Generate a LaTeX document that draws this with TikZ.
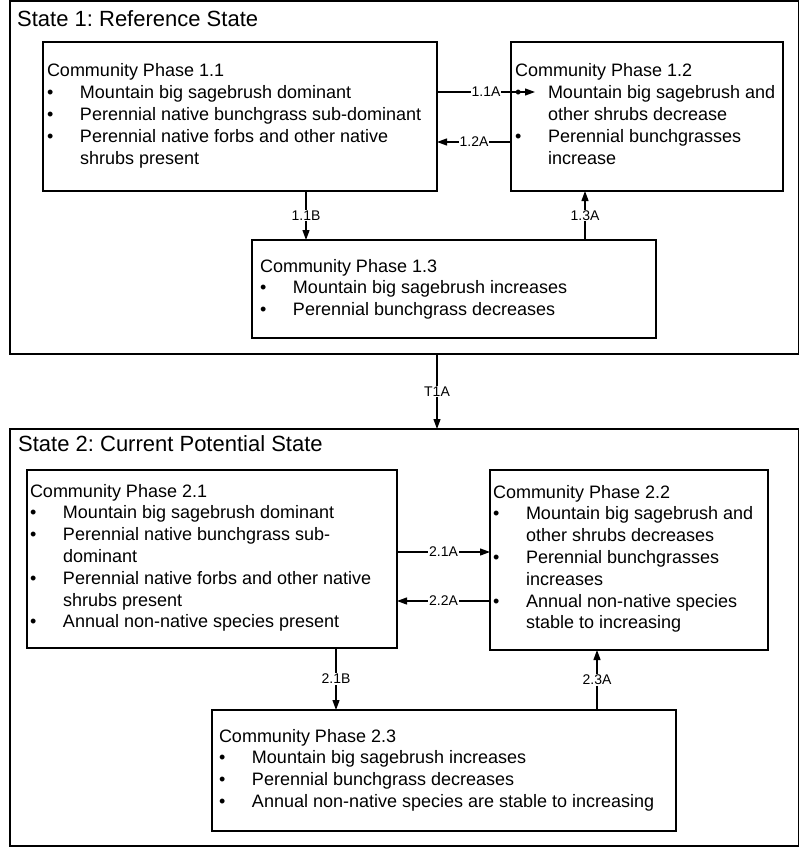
\documentclass[tikz,border=0pt]{standalone}
\usepackage{fontspec}
\setmainfont{Liberation Sans}
\usetikzlibrary{arrows.meta,calc}
\frenchspacing
\tikzset{
  boxstyle/.style={draw, line width=1.2pt, inner sep=0pt, outer sep=0pt, anchor=north west},
  body/.style={inner sep=0pt, outer sep=0pt, anchor=base west, font=\fontsize{18}{21.8}\selectfont},
  ttl/.style={inner sep=0pt, anchor=base west, font=\fontsize{22}{26}\selectfont},
  lbl/.style={fill=white, inner sep=1pt, font=\fontsize{14}{16}\selectfont},
  conn/.style={line width=1.2pt, -{Triangle[length=10pt,width=7pt]}},
}
\newcommand{\bul}{\textbullet}
\newenvironment{phaselist}{\begin{tabular}[t]{@{}p{33pt}@{}l@{}}}{\end{tabular}}
\begin{document}
\frenchspacing
\begin{tikzpicture}[x=1pt,y=-1pt]
\useasboundingbox (0,0) rectangle (800,848);
% state boxes
\node[boxstyle, minimum width=788.5pt, minimum height=353pt] (s1) at (10,1) {};
\node[boxstyle, minimum width=788.5pt, minimum height=417pt] (s2) at (10,429) {};
\node[ttl] (s1t) at (17,27) {State 1: Reference State};
\node[ttl] (s2t) at (18,451) {State 2: Current Potential State};
% phase boxes
\node[boxstyle, minimum width=394pt, minimum height=149pt] (p11) at (43,42) {};
\node[boxstyle, minimum width=272pt, minimum height=149pt] (p12) at (511,42) {};
\node[boxstyle, minimum width=404pt, minimum height=98pt] (p13) at (252,240) {};
\node[boxstyle, minimum width=370pt, minimum height=178pt] (p21) at (27,470) {};
\node[boxstyle, minimum width=278pt, minimum height=180pt] (p22) at (490,470) {};
\node[boxstyle, minimum width=464pt, minimum height=121pt] (p23) at (212,710) {};
% phase texts
\node[body] (t11) at (47,77) {\begin{phaselist}
\multicolumn{2}{@{}l@{}}{Community Phase 1.1}\\
\bul & Mountain big sagebrush dominant\\
\bul & Perennial native bunchgrass sub-dominant\\
\bul & Perennial native forbs and other native\\
 & shrubs present
\end{phaselist}};
\node[body] (t12) at (515,77) {\begin{phaselist}
\multicolumn{2}{@{}l@{}}{Community Phase 1.2}\\
\bul & Mountain big sagebrush and\\
 & other shrubs decrease\\
\bul & Perennial bunchgrasses\\
 & increase
\end{phaselist}};
\node[body] (t13) at (260,272) {\begin{phaselist}
\multicolumn{2}{@{}l@{}}{Community Phase 1.3}\\
\bul & Mountain big sagebrush increases\\
\bul & Perennial bunchgrass decreases
\end{phaselist}};
\node[body] (t21) at (30,497) {\begin{phaselist}
\multicolumn{2}{@{}l@{}}{Community Phase 2.1}\\
\bul & Mountain big sagebrush dominant\\
\bul & Perennial native bunchgrass sub-\\
 & dominant\\
\bul & Perennial native forbs and other native\\
 & shrubs present\\
\bul & Annual non-native species present
\end{phaselist}};
\node[body] (t22) at (493,498) {\begin{phaselist}
\multicolumn{2}{@{}l@{}}{Community Phase 2.2}\\
\bul & Mountain big sagebrush and\\
 & other shrubs decreases\\
\bul & Perennial bunchgrasses\\
 & increases\\
\bul & Annual non-native species\\
 & stable to increasing
\end{phaselist}};
\node[body] (t23) at (219,742) {\begin{phaselist}
\multicolumn{2}{@{}l@{}}{Community Phase 2.3}\\
\bul & Mountain big sagebrush increases\\
\bul & Perennial bunchgrass decreases\\
\bul & Annual non-native species are stable to increasing
\end{phaselist}};
% helper coordinates
\coordinate (e11a) at (535,92);
\coordinate (y12a) at (0,142);
\coordinate (x11b) at (306,0);
\coordinate (x13a) at (585,0);
\coordinate (xt1a) at (437,0);
\coordinate (y21a) at (0,552);
\coordinate (y22a) at (0,601);
\coordinate (x21b) at (336,0);
\coordinate (x23a) at (597,0);
% connectors
\draw[conn] (p11.east |- e11a) -- node[lbl] {1.1A} (e11a);
\draw[conn] (p12.west |- y12a) -- node[lbl] {1.2A} (p11.east |- y12a);
\draw[conn] (p11.south -| x11b) -- node[lbl] {1.1B} (p13.north -| x11b);
\draw[conn] (p13.north -| x13a) -- node[lbl] {1.3A} (p12.south -| x13a);
\draw[conn] (s1.south -| xt1a) -- node[lbl] {T1A} (s2.north -| xt1a);
\draw[conn] (p21.east |- y21a) -- node[lbl] {2.1A} (p22.west |- y21a);
\draw[conn] (p22.west |- y22a) -- node[lbl] {2.2A} (p21.east |- y22a);
\draw[conn] (p21.south -| x21b) -- node[lbl] {2.1B} (p23.north -| x21b);
\draw[conn] (p23.north -| x23a) -- node[lbl] {2.3A} (p22.south -| x23a);
\end{tikzpicture}
\end{document}
